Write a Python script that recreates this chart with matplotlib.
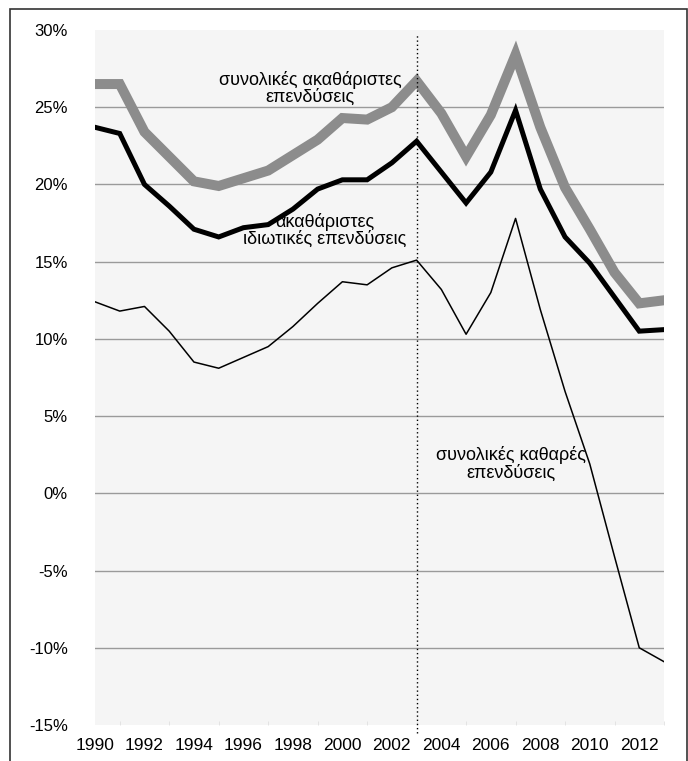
import matplotlib
matplotlib.use('Agg')
import matplotlib.pyplot as plt
from matplotlib.patches import Rectangle
from matplotlib.ticker import FuncFormatter

plt.rcParams['font.family'] = ['Liberation Sans', 'DejaVu Sans']

years = list(range(1990, 2014))

# συνολικές ακαθάριστες επενδύσεις
gross_total = [26.5, 26.5, 23.4, 21.8, 20.2, 19.9, 20.4, 20.9, 21.9, 22.9, 24.3, 24.2,
               25.0, 26.7, 24.6, 21.8, 24.5, 28.4, 23.7, 19.8, 17.1, 14.3, 12.3, 12.5]
# ακαθάριστες ιδιωτικές επενδύσεις
gross_private = [23.7, 23.3, 20.0, 18.6, 17.1, 16.6, 17.2, 17.4, 18.4, 19.7, 20.3, 20.3,
                 21.4, 22.8, 20.8, 18.8, 20.8, 24.8, 19.7, 16.6, 14.9, 12.7, 10.5, 10.6]
# συνολικές καθαρές επενδύσεις
net_total = [12.4, 11.8, 12.1, 10.5, 8.5, 8.1, 8.8, 9.5, 10.8, 12.3, 13.7, 13.5,
             14.6, 15.1, 13.2, 10.3, 13.0, 17.8, 11.9, 6.6, 1.9, -4.1, -10.0, -10.9]

yticks = [-15, -10, -5, 0, 5, 10, 15, 20, 25, 30]
xticks = list(range(1990, 2013, 2))

fig = plt.figure(figsize=(6.88, 7.61), dpi=100)
ax = fig.add_axes([95/688, 36/761, (664-95)/688, (725-30)/761])
ax.set_facecolor('#f5f5f5')

ax.plot(years, gross_total, color='#8c8c8c', lw=7.2, solid_joinstyle='miter', zorder=3)
ax.plot(years, gross_private, color='black', lw=3.6, solid_joinstyle='miter', zorder=4)
ax.plot(years, net_total, color='black', lw=1.1, zorder=5)

ax.axvline(2003, ymin=-0.012, ymax=0.996, color='black', lw=1.0, ls=(0, (1, 2)), clip_on=False, zorder=6)

ax.set_xlim(1990, 2013)
ax.set_ylim(-15, 30)
ax.set_yticks(yticks)
ax.set_xticks(xticks)
ax.set_xticks(years, minor=True)
ax.yaxis.set_major_formatter(FuncFormatter(lambda v, p: f'{v:.0f}%'))
ax.grid(axis='y', color='#9a9a9a', lw=1.0, zorder=1)
gl = ax.get_ygridlines()
gl[0].set_visible(False)
gl[-1].set_visible(False)
ax.set_axisbelow(True)

for s in ax.spines.values():
    s.set_visible(False)
ax.tick_params(axis='y', length=0, pad=19.5, labelsize=12)
ax.tick_params(axis='x', which='major', length=0, pad=9, labelsize=12.5)
ax.tick_params(axis='x', which='minor', direction='in', length=3, color='#e0e0e0')

ax.text(1998.7, 26.2, 'συνολικές ακαθάριστες\nεπενδύσεις', ha='center', va='center',
        fontsize=13, linespacing=1.0)
ax.text(1999.3, 17.0, 'ακαθάριστες\nιδιωτικές επενδύσεις', ha='center', va='center',
        fontsize=13, linespacing=1.0)
ax.text(2006.8, 1.9, 'συνολικές καθαρές\nεπενδύσεις', ha='center', va='center',
        fontsize=13, linespacing=1.0)

fig.patches.append(Rectangle((10/688, -0.01), (686.5-10)/688, 1 - 9/761 + 0.01,
                             transform=fig.transFigure, fill=False,
                             edgecolor='#333333', lw=1.2))

fig.savefig('out.png', dpi=100, facecolor='white')
